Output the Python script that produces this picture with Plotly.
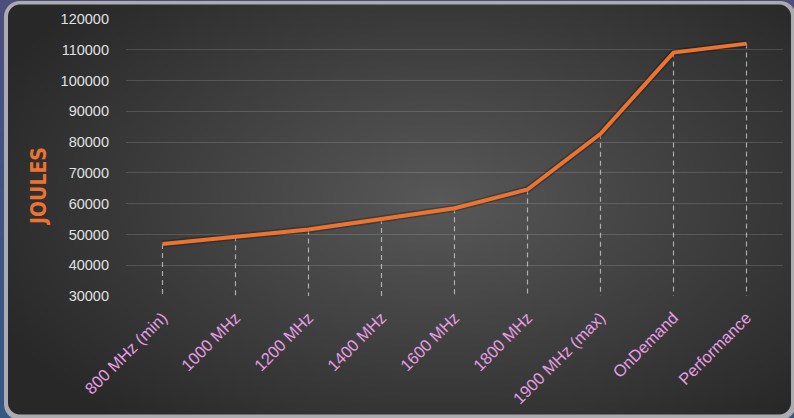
import base64
import struct
import zlib

import numpy as np
import plotly.graph_objects as go

# ---- data ----
categories = ["800 MHz (min)", "1000 MHz", "1200 MHz", "1400 MHz", "1600 MHz",
              "1800 MHz", "1900 MHz (max)", "OnDemand", "Performance"]
joules = [46900, 49400, 51600, 55000, 58500, 64600, 82700, 109100, 112000]
y_ticks = [30000, 40000, 50000, 60000, 70000, 80000, 90000, 100000, 110000, 120000]
y_min, y_max = 30000, 120000

W, H = 794, 418
ML, MR, MT, MB = 126, 11, 19, 122


# ---- background picture (frame + radial gradient) ----
def rr_sdf(px, py, x0, y0, x1, y1, r):
    qx = np.maximum(np.maximum(x0 + r - px, px - (x1 - r)), 0)
    qy = np.maximum(np.maximum(y0 + r - py, py - (y1 - r)), 0)
    return np.sqrt(qx ** 2 + qy ** 2) - r


yy, xx = np.mgrid[0:H, 0:W].astype(float)
px, py = xx + 0.5, yy + 0.5
top = np.array([76, 78, 126], float)
bot = np.array([52, 88, 130], float)
t = (py / H)[..., None]
img = top * (1 - t) + bot * t

grey = np.array([172, 172, 176], float)
cov = np.clip(0.5 - rr_sdf(px, py, 4, 1, 796, 420, 16), 0, 1)[..., None]
img = img * (1 - cov) + grey * cov

cx, cy, rx, ry = 440, 200, 490, 290
d = np.sqrt(((px - cx) / rx) ** 2 + ((py - cy) / ry) ** 2)
d = np.clip(d, 0, 1)[..., None]
light = np.array([88, 88, 88], float)
dark = np.array([40, 40, 40], float)
grad = light * (1 - d) + dark * d
cov2 = np.clip(0.5 - rr_sdf(px, py, 8, 4.5, 791, 414.5, 12), 0, 1)[..., None]
img = img * (1 - cov2) + grad * cov2
img = np.clip(img + 0.5, 0, 255).astype(np.uint8)


def to_png(arr):
    h, w, _ = arr.shape
    raw = b"".join(b"\x00" + arr[i].tobytes() for i in range(h))

    def chunk(tag, data):
        return (struct.pack(">I", len(data)) + tag + data
                + struct.pack(">I", zlib.crc32(tag + data) & 0xFFFFFFFF))

    return (b"\x89PNG\r\n\x1a\n"
            + chunk(b"IHDR", struct.pack(">IIBBBBB", w, h, 8, 2, 0, 0, 0))
            + chunk(b"IDAT", zlib.compress(raw, 9))
            + chunk(b"IEND", b""))


bg_uri = "data:image/png;base64," + base64.b64encode(to_png(img)).decode()

# ---- figure ----
drop_x, drop_y = [], []
for c, v in zip(categories, joules):
    drop_x += [c, c, None]
    drop_y += [v, y_min, None]

fig = go.Figure()
fig.add_trace(go.Scatter(
    x=drop_x, y=drop_y, mode="lines", hoverinfo="skip",
    line=dict(color="rgba(210,210,210,0.75)", width=1.2, dash="5px,4px"),
    showlegend=False))
fig.add_trace(go.Scatter(
    x=categories, y=joules, mode="lines", hoverinfo="skip",
    line=dict(color="rgba(0,0,0,0.25)", width=7),
    showlegend=False))
fig.add_trace(go.Scatter(
    x=categories, y=joules, mode="lines",
    line=dict(color="#ec7430", width=4),
    showlegend=False))

pw, ph = W - ML - MR, H - MT - MB
fig.update_layout(
    width=W, height=H,
    margin=dict(l=ML, r=MR, t=MT, b=MB, pad=0),
    paper_bgcolor="#3e4a7c",
    plot_bgcolor="rgba(0,0,0,0)",
    font=dict(family="Liberation Sans, Arial, sans-serif"),
    images=[dict(source=bg_uri, xref="paper", yref="paper",
                 x=-ML / pw, y=1 + MT / ph, sizex=W / pw, sizey=H / ph,
                 xanchor="left", yanchor="top", sizing="stretch",
                 layer="below")],
    xaxis=dict(type="category", range=[-0.5, len(categories) - 0.5],
               showgrid=False, zeroline=False, showline=False,
               tickangle=-45, ticks="", ticklabelstandoff=8,
               tickfont=dict(size=16.5, color="#e69de4")),
    yaxis=dict(range=[y_min, y_max], tickvals=y_ticks,
               ticktext=[str(v) for v in y_ticks],
               showgrid=True, gridcolor="rgba(255,255,255,0.14)", gridwidth=1,
               zeroline=False, showline=False, ticks="",
               ticklabelstandoff=16,
               tickfont=dict(size=14.5, color="#e0e0e0")),
    annotations=[dict(text="<b>JOULES</b>", xref="paper", yref="paper",
                      x=(39 - ML) / pw, y=1 - (187 - MT) / ph,
                      xanchor="center", yanchor="middle", textangle=-90,
                      showarrow=False,
                      font=dict(family="Liberation Sans Narrow, DejaVu Sans Condensed, sans-serif",
                                size=21, color="#ec7430"))],
)

fig.write_html("out.html",
               config={"displayModeBar": False},
               post_script="document.body.style.margin='0';"
                           "document.body.style.overflow='hidden';")
